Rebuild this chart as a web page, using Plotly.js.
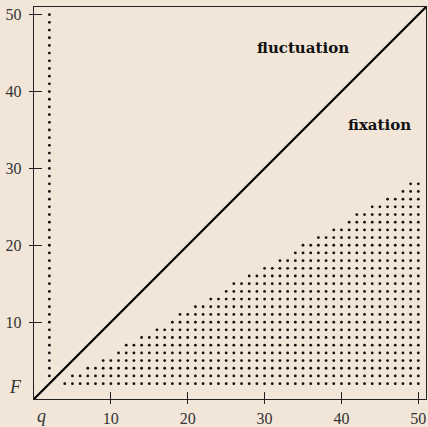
<!DOCTYPE html>
<html>
<head>
<meta charset="utf-8">
<script src="https://cdn.plot.ly/plotly-3.0.1.min.js"></script>
<style>html,body{margin:0;padding:0;background:#f2e6d9;}</style>
</head>
<body>
<div id="chart" style="width:428px;height:427px;"></div>
<script>
// Axis ticks
const tickValues = [10, 20, 30, 40, 50];
const tickLabels = ["10", "20", "30", "40", "50"];

// Vertical dotted column (q = 2)
const columnQ = 2;
const columnFStart = 3;
const columnFEnd = 50;

// Lower dotted region: each row F, first q of the row, last q of the row
const rowF     = [2, 3, 4, 5, 6, 7, 8, 9, 10, 11, 12, 13, 14, 15, 16, 17, 18, 19, 20, 21, 22, 23, 24, 25, 26, 27, 28];
const rowStart = [4, 5, 7, 9, 11, 12, 14, 16, 18, 19, 21, 23, 25, 26, 28, 30, 32, 34, 35, 37, 39, 41, 42, 44, 46, 48, 49];
const rowEnd   = [50, 50, 50, 50, 50, 50, 50, 50, 50, 50, 50, 50, 50, 50, 50, 50, 50, 50, 50, 50, 50, 50, 50, 50, 50, 50, 50];

// Diagonal boundary q = F
const diagQ = [0, 51];
const diagF = [0, 51];

// Region labels
const regionLabels = ["fluctuation", "fixation"];
const regionQ = [35, 45];
const regionF = [45.7, 35.6];

const colX = [], colY = [];
for (let f = columnFStart; f <= columnFEnd; f++) { colX.push(columnQ); colY.push(f); }

const triX = [], triY = [];
for (let i = 0; i < rowF.length; i++) {
  for (let q = rowStart[i]; q <= rowEnd[i]; q++) { triX.push(q); triY.push(rowF[i]); }
}

const dotMarker = {size: 2.8, color: '#111', line: {width: 0}};
const data = [
  {x: colX, y: colY, mode: 'markers', type: 'scatter', marker: dotMarker, hoverinfo: 'skip'},
  {x: triX, y: triY, mode: 'markers', type: 'scatter', marker: dotMarker, hoverinfo: 'skip'},
  {x: diagQ, y: diagF, mode: 'lines', type: 'scatter', line: {color: '#000', width: 2.2}, hoverinfo: 'skip'},
  {x: [null], y: [null], xaxis: 'x2', yaxis: 'y2', mode: 'markers', hoverinfo: 'skip'}
];

const tickFont = {family: 'Liberation Serif, serif', size: 16, color: '#333'};
const labelFont = {family: 'DejaVu Serif, serif', size: 15, color: '#111'};
const layout = {
  width: 428, height: 427,
  margin: {l: 34, r: 2, t: 7, b: 28, pad: 0},
  paper_bgcolor: '#f2e6d9', plot_bgcolor: '#f2e6d9',
  showlegend: false,
  xaxis: {
    range: [0, 51], showgrid: false, zeroline: false,
    showline: true, linecolor: '#222', linewidth: 1.3, mirror: true,
    tickmode: 'array', tickvals: tickValues, ticktext: tickLabels,
    ticks: 'inside', ticklen: 7, tickwidth: 1, tickcolor: '#222',
    tickfont: tickFont, ticklabelstandoff: 4
  },
  yaxis: {
    range: [0, 51], showgrid: false, zeroline: false,
    showline: true, linecolor: '#222', linewidth: 1.3, mirror: true,
    tickmode: 'array', tickvals: tickValues, ticktext: tickLabels,
    ticks: 'inside', ticklen: 8, tickwidth: 1, tickcolor: '#222',
    tickfont: tickFont, ticklabelstandoff: 8
  },
  xaxis2: {
    overlaying: 'x', anchor: 'y2', side: 'bottom', range: [0, 51],
    showgrid: false, zeroline: false, showline: false, showticklabels: false,
    tickmode: 'array', tickvals: tickValues,
    ticks: 'outside', ticklen: 4, tickwidth: 1, tickcolor: '#222'
  },
  yaxis2: {
    overlaying: 'y', anchor: 'x2', side: 'left', range: [0, 51],
    showgrid: false, zeroline: false, showline: false, showticklabels: false,
    tickmode: 'array', tickvals: tickValues,
    ticks: 'outside', ticklen: 4, tickwidth: 1, tickcolor: '#222'
  },
  annotations: [
    {x: regionQ[0], y: regionF[0], xref: 'x', yref: 'y', text: '<b>' + regionLabels[0] + '</b>', showarrow: false, font: labelFont},
    {x: regionQ[1], y: regionF[1], xref: 'x', yref: 'y', text: '<b>' + regionLabels[1] + '</b>', showarrow: false, font: labelFont},
    {x: 1, y: 0, xref: 'x', yref: 'y', yshift: -17, text: '<i>q</i>', showarrow: false,
     font: {family: 'Liberation Serif, serif', size: 18, color: '#333'}},
    {x: 0, y: 1.6, xref: 'x', yref: 'y', xshift: -19, text: '<i>F</i>', showarrow: false,
     font: {family: 'Liberation Serif, serif', size: 18, color: '#333'}}
  ]
};

Plotly.newPlot('chart', data, layout, {displayModeBar: false, staticPlot: true});
</script>
</body>
</html>
